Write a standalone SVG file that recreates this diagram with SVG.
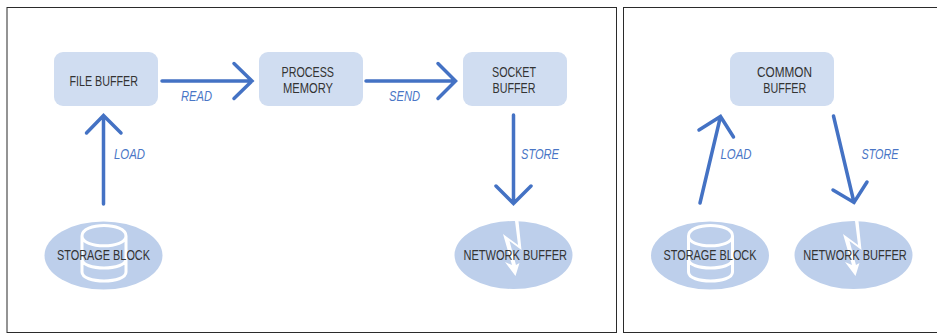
<svg xmlns="http://www.w3.org/2000/svg" width="937" height="333" viewBox="0 0 937 333">
<style>
.panel{fill:#fff;stroke:#2b2b2b;stroke-width:1}
.box{fill:#d0ddf1}
.ell{fill:#bdcfeb}
.t{font-family:"Liberation Sans",sans-serif;font-size:14px;fill:#333;text-anchor:middle}
.l{font-family:"Liberation Sans",sans-serif;font-size:14px;font-style:italic;fill:#4a76c6;text-anchor:middle}
.c{fill:none;stroke:#4472c4;stroke-width:3.500;stroke-linecap:round;stroke-linejoin:miter}
.i{fill:none;stroke:#fff;stroke-width:3}
.b{fill:#fff}
</style>
<defs>
<path id="cyl" class="i" d="M82 236V272C82 284 126 284 126 272V236C126 222 82 222 82 236C82 249 126 249 126 236M82 259C82 271 126 271 126 259"/>
<path id="bolt" class="b" d="M515 221L518 245L503 234L512 265L505 262L515.500 276L519.500 263L516 265L509.500 241L521.500 250L518.500 221Z"/>
</defs>
<rect width="937" height="333" fill="#fff"/>
<rect class="panel" x="7" y="7.500" width="609.500" height="325"/>
<rect class="panel" x="623.500" y="7.500" width="320" height="325"/>
<g id="connectors">
<path class="c" d="M162 81H252M234 63.500L252 81L234 98.500"/>
<path class="c" d="M366 81H455M438 63.500L455.500 81L438 98.500"/>
<path class="c" d="M103.500 204V115.500M86.500 133L103.500 115.500L121 133"/>
<path class="c" d="M513.500 115V203.500M496 186L513.500 203.500L531 186"/>
<path class="c" d="M700 203L720.500 116.500M699 130L720.500 116.500L733.500 137"/>
<path class="c" d="M833.500 116L854 202.500M833 190L854 202.500L867 182"/>
</g>
<g id="file-buffer"><rect class="box" x="54" y="52" width="104" height="54" rx="9"/><text class="t" x="103.750" y="86" textLength="68.500" lengthAdjust="spacingAndGlyphs">FILE BUFFER</text></g>
<g id="process-memory"><rect class="box" x="259" y="52" width="104" height="54" rx="9"/><text class="t" x="307.750" y="77" textLength="52.500" lengthAdjust="spacingAndGlyphs">PROCESS</text><text class="t" x="308" y="93" textLength="50" lengthAdjust="spacingAndGlyphs">MEMORY</text></g>
<g id="socket-buffer"><rect class="box" x="463" y="52" width="104" height="54" rx="9"/><text class="t" x="514" y="77" textLength="44" lengthAdjust="spacingAndGlyphs">SOCKET</text><text class="t" x="514" y="93" textLength="43" lengthAdjust="spacingAndGlyphs">BUFFER</text></g>
<g id="common-buffer"><rect class="box" x="730" y="52" width="104" height="54" rx="9"/><text class="t" x="784.500" y="77" textLength="55" lengthAdjust="spacingAndGlyphs">COMMON</text><text class="t" x="784.750" y="93" textLength="43" lengthAdjust="spacingAndGlyphs">BUFFER</text></g>
<g id="storage-block-1"><ellipse class="ell" cx="103.500" cy="255.500" rx="59" ry="34"/>
<use href="#cyl"/>
<text class="t" x="103.500" y="260" textLength="93" lengthAdjust="spacingAndGlyphs">STORAGE BLOCK</text></g>
<g id="network-buffer-1"><ellipse class="ell" cx="513.500" cy="255" rx="59" ry="34"/>
<use href="#bolt"/>
<text class="t" x="515.250" y="260" textLength="103.500" lengthAdjust="spacingAndGlyphs">NETWORK BUFFER</text></g>
<g id="storage-block-2"><ellipse class="ell" cx="710" cy="255.500" rx="59" ry="34"/>
<use href="#cyl" x="606.500"/>
<text class="t" x="710" y="260" textLength="93" lengthAdjust="spacingAndGlyphs">STORAGE BLOCK</text></g>
<g id="network-buffer-2"><ellipse class="ell" cx="853.500" cy="255" rx="59" ry="34"/>
<use href="#bolt" x="340"/>
<text class="t" x="855" y="260" textLength="103.500" lengthAdjust="spacingAndGlyphs">NETWORK BUFFER</text></g>
<g id="labels">
<text class="l" x="196.500" y="101" textLength="31" lengthAdjust="spacingAndGlyphs">READ</text>
<text class="l" x="404.500" y="101" textLength="31" lengthAdjust="spacingAndGlyphs">SEND</text>
<text class="l" x="129.500" y="159" textLength="31" lengthAdjust="spacingAndGlyphs">LOAD</text>
<text class="l" x="540" y="159" textLength="38" lengthAdjust="spacingAndGlyphs">STORE</text>
<text class="l" x="736" y="159" textLength="31" lengthAdjust="spacingAndGlyphs">LOAD</text>
<text class="l" x="880" y="159" textLength="37" lengthAdjust="spacingAndGlyphs">STORE</text>
</g>
</svg>
